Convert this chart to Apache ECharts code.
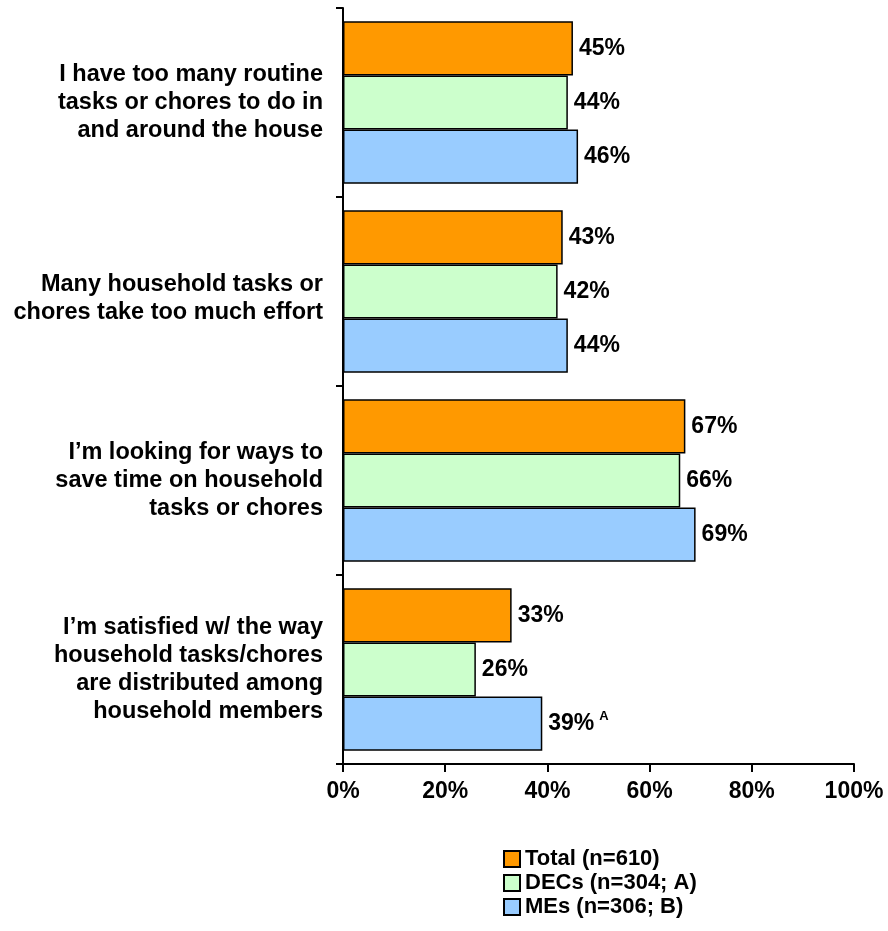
<!DOCTYPE html>
<html>
<head>
<meta charset="utf-8">
<script src="https://cdn.jsdelivr.net/npm/echarts@6/dist/echarts.min.js"></script>
<style>
  html, body { margin: 0; padding: 0; background: #fff; }
  #chart { width: 888px; height: 931px; }
</style>
</head>
<body>
<div id="chart"></div>
<script>
var categories = [
    'I have too many routine\ntasks or chores to do in\nand around the house',
    'Many household tasks or\nchores take too much effort',
    'I\u2019m looking for ways to\nsave time on household\ntasks or chores',
    'I\u2019m satisfied w/ the way\nhousehold tasks/chores\nare distributed among\nhousehold members'
];
var totalValues = [45, 43, 67, 33];
var decValues = [44, 42, 66, 26];
var meValues = [46, 44, 69, 39];
// significance letters shown beside the ME bars
var meSig = ['', '', '', 'A'];
var seriesNames = ['Total (n=610)', 'DECs (n=304; A)', 'MEs (n=306; B)'];
var xTicks = [0, 20, 40, 60, 80, 100];

var font = "'Liberation Sans', Arial, sans-serif";

var chart = echarts.init(document.getElementById('chart'));

function barLabel(sigs) {
    return {
        show: true,
        position: 'right',
        distance: 6,
        formatter: function (p) {
            var s = sigs ? sigs[p.dataIndex] : '';
            return '{v|' + p.value + '%}' + (s ? '{sup|' + s + '}' : '');
        },
        rich: {
            v: { fontFamily: font, fontWeight: 'bold', fontSize: 23, color: '#000' },
            sup: { fontFamily: font, fontWeight: 'bold', fontSize: 13, color: '#000', padding: [0, 0, 14, 5] }
        }
    };
}

var option = {
    animation: false,
    backgroundColor: '#fff',
    grid: { left: 343, right: 34, top: 8, bottom: 167 },
    legend: {
        orient: 'vertical',
        left: 498,
        top: 843,
        itemWidth: 16,
        itemHeight: 16,
        itemGap: 2,
        icon: 'rect',
        data: seriesNames,
        textStyle: { fontFamily: font, fontWeight: 'bold', fontSize: 22, color: '#000' }
    },
    xAxis: {
        type: 'value',
        min: xTicks[0],
        max: xTicks[xTicks.length - 1],
        interval: 20,
        splitLine: { show: false },
        axisLine: { show: true, lineStyle: { color: '#000', width: 2 } },
        axisTick: { show: true, length: 8, lineStyle: { color: '#000', width: 2 } },
        axisLabel: {
            margin: 16,
            formatter: '{value}%',
            fontFamily: font, fontWeight: 'bold', fontSize: 23, color: '#000'
        }
    },
    yAxis: {
        type: 'category',
        inverse: true,
        data: categories,
        axisLine: { show: true, lineStyle: { color: '#000', width: 2 } },
        axisTick: { show: true, length: 7, lineStyle: { color: '#000', width: 2 } },
        axisLabel: {
            margin: 20,
            align: 'right',
            lineHeight: 28,
            fontFamily: font, fontWeight: 'bold', fontSize: 23.5, color: '#000',
            // the two-line label sits a little lower in the original
            formatter: function (v, i) {
                return i === 1 ? '{pad| }\n' + v : v;
            },
            rich: {
                pad: { lineHeight: 15, fontSize: 8 }
            }
        }
    },
    series: [
        {
            name: seriesNames[0],
            type: 'bar',
            data: totalValues,
            barGap: '0%',
            barCategoryGap: '14%',
            itemStyle: { color: '#FF9900', borderColor: '#000', borderWidth: 1.5 },
            label: barLabel(null)
        },
        {
            name: seriesNames[1],
            type: 'bar',
            data: decValues,
            barGap: '0%',
            barCategoryGap: '14%',
            itemStyle: { color: '#CCFFCC', borderColor: '#000', borderWidth: 1.5 },
            label: barLabel(null)
        },
        {
            name: seriesNames[2],
            type: 'bar',
            data: meValues,
            barGap: '0%',
            barCategoryGap: '14%',
            itemStyle: { color: '#99CCFF', borderColor: '#000', borderWidth: 1.5 },
            label: barLabel(meSig)
        }
    ]
};

chart.setOption(option);
window.addEventListener('resize', function () {
    chart.resize();
});
</script>
</body>
</html>
